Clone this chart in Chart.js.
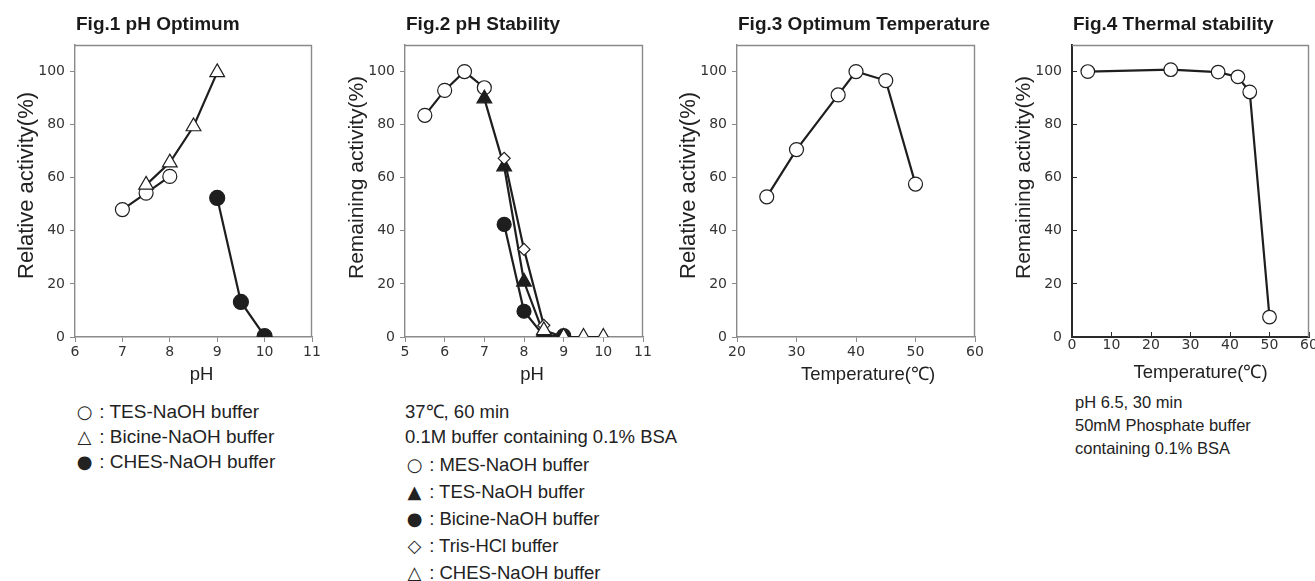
<!DOCTYPE html>
<html><head><meta charset="utf-8">
<script src="https://cdn.jsdelivr.net/npm/chart.js@4/dist/chart.umd.min.js"></script>
<style>
html,body{margin:0;padding:0;background:#fff;}
body{width:1315px;height:581px;overflow:hidden;position:relative;font-family:"Liberation Sans",Arial,sans-serif;color:#222;}
canvas.cv{position:absolute;top:0;}
.note{position:absolute;white-space:nowrap;color:#222;}
.sym{font-family:"DejaVu Sans",sans-serif;display:inline-block;width:19px;text-align:center;font-size:18px;}
</style></head><body>
<canvas class="cv" id="c1" width="360" height="390" style="left:0px"></canvas>
<canvas class="cv" id="c2" width="360" height="390" style="left:330px"></canvas>
<canvas class="cv" id="c3" width="360" height="390" style="left:662px"></canvas>
<canvas class="cv" id="c4" width="360" height="390" style="left:997px"></canvas>

<div class="note" style="left:75px;top:399px;font-size:19px;line-height:25px;">
<div><span class="sym">○</span> : TES-NaOH buffer</div>
<div><span class="sym">△</span> : Bicine-NaOH buffer</div>
<div><span class="sym">●</span> : CHES-NaOH buffer</div>
</div>

<div class="note" style="left:405px;top:399px;font-size:18.5px;line-height:25px;">
<div>37℃, 60 min</div>
<div>0.1M buffer containing 0.1% BSA</div>
<div style="line-height:27px;margin-top:2px"><span class="sym">○</span> : MES-NaOH buffer</div>
<div style="line-height:27px"><span class="sym">▲</span> : TES-NaOH buffer</div>
<div style="line-height:27px"><span class="sym">●</span> : Bicine-NaOH buffer</div>
<div style="line-height:27px"><span class="sym">◇</span> : Tris-HCl buffer</div>
<div style="line-height:27px"><span class="sym">△</span> : CHES-NaOH buffer</div>
</div>

<div class="note" style="left:1075px;top:391px;font-size:16.5px;line-height:23px;">
<div>pH 6.5, 30 min</div>
<div>50mM Phosphate buffer</div>
<div>containing 0.1% BSA</div>
</div>

<script>
// ---------- DATA ----------
// Fig.1 pH Optimum
const fig1XTicks = [6, 7, 8, 9, 10, 11];
const fig1YTicks = [0, 20, 40, 60, 80, 100];
const fig1TES_pH = [7, 7.5, 8];
const fig1TES_act = [48, 54.2, 60.5];
const fig1Bicine_pH = [7.5, 8, 8.5, 9];
const fig1Bicine_act = [57.3, 65.7, 79.3, 99.7];
const fig1CHES_pH = [9, 9.5, 10];
const fig1CHES_act = [52.4, 13.2, 0.3];

// Fig.2 pH Stability
const fig2XTicks = [5, 6, 7, 8, 9, 10, 11];
const fig2YTicks = [0, 20, 40, 60, 80, 100];
const fig2MES_pH = [5.5, 6, 6.5, 7];
const fig2MES_act = [83.5, 92.9, 100, 93.9];
const fig2TES_pH = [7, 7.5, 8, 8.5];
const fig2TES_act = [89.8, 64.2, 20.8, 1];
const fig2Bicine_pH = [7.5, 8, 8.5, 9];
const fig2Bicine_act = [42.4, 9.7, 0.4, 0.5];
const fig2Tris_pH = [7.5, 8, 8.5];
const fig2Tris_act = [67.3, 33, 4.4];
const fig2CHES_pH = [8.5, 9, 9.5, 10];
const fig2CHES_act = [2.5, 0, 0, 0];

// Fig.3 Optimum Temperature
const fig3XTicks = [20, 30, 40, 50, 60];
const fig3YTicks = [0, 20, 40, 60, 80, 100];
const fig3Temp = [25, 30, 37, 40, 45, 50];
const fig3Act = [52.8, 70.6, 91.2, 100, 96.6, 57.6];

// Fig.4 Thermal stability
const fig4XTicks = [0, 10, 20, 30, 40, 50, 60];
const fig4YTicks = [0, 20, 40, 60, 80, 100];
const fig4Temp = [4, 25, 37, 42, 45, 50];
const fig4Act = [100, 100.7, 99.8, 98, 92.3, 7.5];

// ---------- HELPERS ----------
const INK = '#1e1e1e';
const pts = (xs, ys) => xs.map((x, i) => ({x: x, y: ys[i]}));

function ds(xs, ys, style, radius, filled) {
  return {
    data: pts(xs, ys),
    borderColor: INK,
    borderWidth: 2.2,
    pointStyle: style,
    pointRadius: radius,
    pointHoverRadius: radius,
    pointBackgroundColor: filled ? INK : '#ffffff',
    pointBorderColor: INK,
    pointBorderWidth: 1.2,
    tension: 0,
    fill: false
  };
}

const framePlugin = {
  id: 'frame',
  beforeDatasetsDraw(chart, args, o) {
    const a = chart.chartArea, ctx = chart.ctx;
    ctx.save();
    ctx.strokeStyle = o.color;
    ctx.lineWidth = o.width;
    ctx.beginPath();
    ctx.moveTo(a.left, a.top + 0.5);
    ctx.lineTo(a.right - 0.5, a.top + 0.5);
    ctx.lineTo(a.right - 0.5, a.bottom);
    ctx.stroke();
    ctx.restore();
  },
  afterDraw(chart, args, o) {
    const a = chart.chartArea, ctx = chart.ctx;
    ctx.save();
    ctx.fillStyle = '#1a1a1a';
    ctx.font = 'bold 19px "Liberation Sans", Arial, sans-serif';
    ctx.textAlign = 'left';
    ctx.textBaseline = 'middle';
    ctx.fillText(o.title, a.left + 1, 25);
    ctx.font = '18.5px "Liberation Sans", Arial, sans-serif';
    ctx.fillStyle = '#222';
    ctx.textAlign = 'center';
    ctx.fillText(o.xTitle, (a.left + a.right) / 2 + o.xDx, o.xY);
    ctx.font = o.yFont + 'px "Liberation Sans", Arial, sans-serif';
    ctx.translate(a.left - 48, 279);
    ctx.rotate(-Math.PI / 2);
    ctx.textAlign = 'left';
    ctx.fillText(o.yTitle, 0, 0);
    ctx.restore();
  }
};

function makeChart(id, spec) {
  const tickFont = {family: 'DejaVu Sans', size: 14};
  const gridCol = spec.axisColor;
  const tl = spec.inward ? -5 : 5;
  new Chart(document.getElementById(id), {
    type: 'line',
    data: {datasets: spec.datasets},
    options: {
      responsive: false,
      animation: false,
      events: [],
      layout: {padding: {left: 0, top: 45, right: 360 - 75 - spec.plotW, bottom: 3}},
      plugins: {
        legend: {display: false},
        tooltip: {enabled: false},
        title: {display: false},
        frame: {color: '#8a8a8a', width: 1.4, title: spec.title, xTitle: spec.xTitle, yTitle: spec.yTitle, yFont: spec.yFont, xDx: spec.xDx, xY: spec.xY}
      },
      scales: {
        x: {
          type: 'linear',
          min: spec.xTicks[0],
          max: spec.xTicks[spec.xTicks.length - 1],
          afterBuildTicks: s => { s.ticks = spec.xTicks.map(v => ({value: v})); },
          afterFit: s => { s.height = 50; },
          grid: {display: true, drawOnChartArea: false, drawTicks: true, tickLength: tl, color: gridCol, lineWidth: 1},
          border: {display: true, color: gridCol, width: spec.axisWidth},
          ticks: {font: tickFont, color: '#333', padding: spec.inward ? 5 : 2, autoSkip: false, maxRotation: 0}
        },
        y: {
          type: 'linear',
          min: 0,
          max: 110,
          afterBuildTicks: s => { s.ticks = spec.yTicks.map(v => ({value: v})); },
          afterFit: s => { s.width = 75; },
          grid: {display: true, drawOnChartArea: false, drawTicks: true, tickLength: tl, color: gridCol, lineWidth: 1},
          border: {display: true, color: gridCol, width: spec.axisWidth},
          ticks: {font: tickFont, color: '#333', padding: spec.inward ? 15 : 5, autoSkip: false}
        }
      }
    },
    plugins: [framePlugin]
  });
}

makeChart('c1', {
  plotW: 237, xTicks: fig1XTicks, yTicks: fig1YTicks, axisColor: '#8a8a8a', axisWidth: 1.4,
  title: 'Fig.1 pH Optimum', xTitle: 'pH', yTitle: 'Relative activity(%)', yFont: 22, xDx: 8, xY: 375,
  datasets: [
    ds(fig1Bicine_pH, fig1Bicine_act, 'triangle', 8.5, false),
    ds(fig1TES_pH, fig1TES_act, 'circle', 7, false),
    ds(fig1CHES_pH, fig1CHES_act, 'circle', 7.5, true)
  ]
});

makeChart('c2', {
  plotW: 238, xTicks: fig2XTicks, yTicks: fig2YTicks, axisColor: '#8a8a8a', axisWidth: 1.4,
  title: 'Fig.2 pH Stability', xTitle: 'pH', yTitle: 'Remaining activity(%)', yFont: 21, xDx: 8, xY: 375,
  datasets: [
    ds(fig2CHES_pH, fig2CHES_act, 'triangle', 8.5, false),
    ds(fig2Tris_pH, fig2Tris_act, 'rectRot', 6, false),
    ds(fig2TES_pH, fig2TES_act, 'triangle', 8.5, true),
    ds(fig2Bicine_pH, fig2Bicine_act, 'circle', 7, true),
    ds(fig2MES_pH, fig2MES_act, 'circle', 7, false)
  ]
});

makeChart('c3', {
  plotW: 238, xTicks: fig3XTicks, yTicks: fig3YTicks, axisColor: '#8a8a8a', axisWidth: 1.4,
  title: 'Fig.3 Optimum Temperature', xTitle: 'Temperature(℃)', yTitle: 'Relative activity(%)', yFont: 22, xDx: 12, xY: 375,
  datasets: [ ds(fig3Temp, fig3Act, 'circle', 7, false) ]
});

makeChart('c4', {
  plotW: 237, xTicks: fig4XTicks, yTicks: fig4YTicks, axisColor: '#2a2a2a', axisWidth: 2, inward: true,
  title: 'Fig.4 Thermal stability', xTitle: 'Temperature(℃)', yTitle: 'Remaining activity(%)', yFont: 21, xDx: 10, xY: 373,
  datasets: [ ds(fig4Temp, fig4Act, 'circle', 6.8, false) ]
});
</script>
</body></html>
